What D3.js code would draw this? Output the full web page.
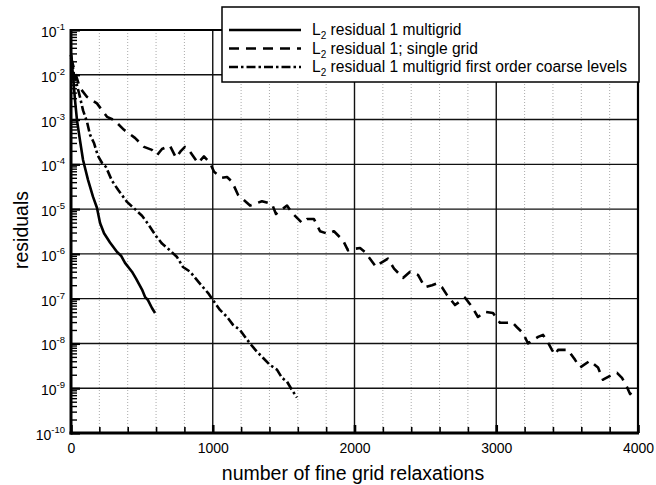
<!DOCTYPE html>
<html>
<head>
<meta charset="utf-8">
<script src="https://cdn.jsdelivr.net/npm/d3@7/dist/d3.min.js"></script>
<style>
  body { margin: 0; background: #fff; }
  svg { display: block; font-family: "Liberation Sans", Arial, Helvetica, sans-serif; }
</style>
</head>
<body>
<svg id="chart" width="656" height="485"></svg>
<script>
// [relaxations, residual]
const multigrid = [
  [0, 2.8e-2], [14, 1.0e-2], [28, 2.8e-3], [42, 9.8e-4], [63, 3.5e-4], [85, 1.25e-4],
  [120, 4.5e-5], [155, 1.9e-5], [183, 1.07e-5], [205, 4.9e-6], [233, 2.9e-6], [275, 1.8e-6],
  [325, 1.1e-6], [353, 9.1e-7], [381, 6.3e-7], [430, 4.0e-7], [459, 2.8e-7], [501, 1.6e-7],
  [522, 1.1e-7], [543, 9.3e-8], [571, 6.2e-8], [593, 4.8e-8]
];

const singleGrid = [
  [0, 2.4e-2], [28, 1.15e-2], [63, 5.1e-3], [113, 3.2e-3], [183, 2.3e-3], [254, 1.15e-3],
  [303, 9.8e-4], [374, 5.9e-4], [451, 3.9e-4], [515, 2.45e-4], [571, 2.1e-4], [607, 1.6e-4],
  [642, 2.2e-4], [698, 2.6e-4], [741, 1.4e-4], [776, 2.0e-4], [804, 2.45e-4], [840, 1.9e-4],
  [896, 1.07e-4], [938, 1.5e-4], [981, 1.07e-4], [1009, 6.8e-5], [1065, 5.0e-5], [1101, 5.2e-5],
  [1136, 4.1e-5], [1178, 2.1e-5], [1263, 1.2e-5], [1347, 1.5e-5], [1418, 1.3e-5], [1446, 7.8e-6],
  [1524, 1.2e-5], [1559, 8.3e-6], [1630, 4.9e-6], [1665, 6.0e-6], [1714, 6.0e-6], [1757, 3.2e-6],
  [1813, 2.8e-6], [1855, 3.2e-6], [1919, 2.0e-6], [1954, 1.2e-6], [2004, 1.3e-6], [2039, 1.35e-6],
  [2074, 1.1e-6], [2152, 5.1e-7], [2187, 6.3e-7], [2236, 7.8e-7], [2279, 4.7e-7], [2342, 2.9e-7],
  [2392, 4.0e-7], [2448, 3.4e-7], [2497, 1.8e-7], [2547, 2.0e-7], [2582, 2.2e-7], [2617, 1.8e-7],
  [2653, 1.2e-7], [2709, 7.2e-8], [2780, 1.05e-7], [2829, 6.6e-8], [2871, 3.9e-8], [2921, 5.1e-8],
  [2977, 4.8e-8], [3026, 2.9e-8], [3076, 2.9e-8], [3111, 3.0e-8], [3146, 2.3e-8], [3189, 1.7e-8],
  [3224, 1.0e-8], [3295, 1.4e-8], [3330, 1.55e-8], [3358, 1.15e-8], [3393, 7.2e-9], [3414, 5.6e-9],
  [3436, 7.2e-9], [3506, 7.2e-9], [3556, 4.3e-9], [3591, 2.9e-9], [3661, 4.1e-9], [3718, 2.9e-9],
  [3753, 1.55e-9], [3817, 2.0e-9], [3852, 2.2e-9], [3887, 1.7e-9], [3922, 1.07e-9], [3944, 7.4e-10],
  [3979, 9.8e-10]
];

const firstOrder = [
  [0, 2.8e-2], [21, 1.0e-2], [42, 5.9e-3], [63, 3.2e-3], [85, 1.6e-3], [113, 8.9e-4],
  [134, 4.6e-4], [162, 3.0e-4], [190, 1.55e-4], [219, 1.07e-4], [247, 8.7e-5], [289, 4.3e-5],
  [332, 2.7e-5], [395, 1.45e-5], [451, 1.0e-5], [501, 7.1e-6], [543, 4.7e-6], [600, 2.5e-6],
  [642, 1.7e-6], [698, 1.2e-6], [748, 8.5e-7], [790, 5.1e-7], [840, 4.0e-7], [889, 2.6e-7],
  [931, 1.8e-7], [966, 1.35e-7], [1002, 9.3e-8], [1051, 5.6e-8], [1101, 3.9e-8], [1143, 2.6e-8],
  [1192, 2.0e-8], [1228, 1.4e-8], [1263, 1.0e-8], [1312, 6.5e-9], [1354, 4.8e-9], [1404, 3.3e-9],
  [1453, 2.6e-9], [1489, 1.7e-9], [1524, 1.4e-9], [1559, 9.1e-10], [1594, 6.2e-10]
];

const xTickLabels = [0, 1000, 2000, 3000, 4000];
const yExponents = [-1, -2, -3, -4, -5, -6, -7, -8, -9, -10];
const legendLabels = [
  ["residual 1 multigrid", ""],
  ["residual 1", "; single grid"],
  ["residual 1 multigrid first order coarse levels", ""]
];

const svg = d3.select("#chart");
const plotLeft = 71, plotRight = 638, plotTop = 30, plotBottom = 433;

const x = d3.scaleLinear().domain([0, 4000]).range([plotLeft, plotRight]);
const y = d3.scaleLog().domain([1e-10, 1e-1]).range([plotBottom, plotTop]);

const minorX = d3.range(200, 4000, 200).filter(v => v % 1000 !== 0);
const minorY = [];
yExponents.slice(1).forEach(e => {
  for (let k = 2; k <= 9; k++) minorY.push(k * Math.pow(10, e));
});

// grid
const grid = svg.append("g");
grid.selectAll(".vminor")
  .data(minorX)
  .enter()
  .append("line")
  .attr("x1", d => x(d)).attr("x2", d => x(d))
  .attr("y1", plotTop).attr("y2", plotBottom)
  .attr("stroke", "#aaa")
  .attr("stroke-width", 1)
  .attr("stroke-dasharray", "1,2");

grid.selectAll(".vmajor")
  .data(xTickLabels.slice(1, -1))
  .enter()
  .append("line")
  .attr("x1", d => x(d)).attr("x2", d => x(d))
  .attr("y1", plotTop).attr("y2", plotBottom)
  .attr("stroke", "#111")
  .attr("stroke-width", 1.4);

grid.selectAll(".hmajor")
  .data(yExponents.slice(1, -1))
  .enter()
  .append("line")
  .attr("x1", plotLeft).attr("x2", plotRight)
  .attr("y1", d => y(Math.pow(10, d))).attr("y2", d => y(Math.pow(10, d)))
  .attr("stroke", "#111")
  .attr("stroke-width", 1.4);

// curves
const line = d3.line().x(d => x(d[0])).y(d => y(d[1]));
const series = [
  { data: multigrid, dash: null },
  { data: singleGrid, dash: "10,7" },
  { data: firstOrder, dash: "9,3,2.5,3" }
];

svg.append("g")
  .selectAll("path")
  .data(series)
  .enter()
  .append("path")
  .attr("d", s => line(s.data))
  .attr("fill", "none")
  .attr("stroke", "#000")
  .attr("stroke-width", 2.6)
  .attr("stroke-linejoin", "round")
  .attr("stroke-dasharray", s => s.dash);

// axes
svg.append("g")
  .attr("transform", `translate(0, ${plotBottom})`)
  .call(d3.axisBottom(x).tickValues(minorX).tickSize(-6).tickFormat(""))
  .call(g => g.select(".domain").remove())
  .call(g => g.selectAll("line").attr("stroke", "#000").attr("stroke-width", 1.6));

svg.append("g")
  .attr("transform", `translate(0, ${plotBottom})`)
  .call(d3.axisBottom(x).tickValues(xTickLabels).tickSize(-8).tickPadding(10).tickFormat(d3.format("d")))
  .call(g => g.select(".domain").remove())
  .call(g => g.selectAll("line").attr("stroke", "#000").attr("stroke-width", 2.6))
  .call(g => g.selectAll("text").attr("font-size", 14).attr("fill", "#000"))
  .attr("font-family", null);

svg.append("g")
  .attr("transform", `translate(${plotLeft}, 0)`)
  .call(d3.axisLeft(y).tickValues(minorY).tickSize(-6).tickFormat(""))
  .call(g => g.select(".domain").remove())
  .call(g => g.selectAll("line").attr("stroke", "#000").attr("stroke-width", 1.4));

svg.append("g")
  .attr("transform", `translate(${plotLeft}, 0)`)
  .call(d3.axisLeft(y).tickValues(yExponents.map(e => Math.pow(10, e))).tickSize(-9).tickFormat(""))
  .call(g => g.select(".domain").remove())
  .call(g => g.selectAll("line").attr("stroke", "#000").attr("stroke-width", 2.2));

const ylab = svg.append("g")
  .selectAll("text")
  .data(yExponents)
  .enter()
  .append("text")
  .attr("x", 65)
  .attr("y", d => y(Math.pow(10, d)) + 7)
  .attr("text-anchor", "end")
  .attr("font-size", 14)
  .attr("fill", "#000");
ylab.append("tspan").text("10");
ylab.append("tspan").attr("dy", -7).attr("font-size", 9.5).text(d => d);

// frame
svg.append("line").attr("x1", plotLeft).attr("x2", plotRight).attr("y1", plotTop).attr("y2", plotTop)
  .attr("stroke", "#000").attr("stroke-width", 2.2);
svg.append("line").attr("x1", plotRight).attr("x2", plotRight).attr("y1", plotTop).attr("y2", plotBottom)
  .attr("stroke", "#000").attr("stroke-width", 2.2);
svg.append("line").attr("x1", plotLeft).attr("x2", plotLeft).attr("y1", plotTop - 1).attr("y2", plotBottom + 1.5)
  .attr("stroke", "#000").attr("stroke-width", 3);
svg.append("line").attr("x1", plotLeft - 1.5).attr("x2", plotRight + 1).attr("y1", plotBottom).attr("y2", plotBottom)
  .attr("stroke", "#000").attr("stroke-width", 3);

// legend
const legend = svg.append("g");
legend.append("rect")
  .attr("x", 222).attr("y", 7)
  .attr("width", 417).attr("height", 75)
  .attr("fill", "#fff")
  .attr("stroke", "#000")
  .attr("stroke-width", 1.5);

const rows = legend.selectAll(".row")
  .data(series)
  .enter()
  .append("g")
  .attr("transform", (d, i) => `translate(0, ${[30, 48.5, 67][i]})`);

rows.append("line")
  .attr("x1", 229).attr("x2", 301)
  .attr("stroke", "#000")
  .attr("stroke-width", 2.6)
  .attr("stroke-dasharray", s => s.dash);

const ltext = rows.append("text")
  .attr("x", 312)
  .attr("y", 5)
  .attr("font-size", 15.6)
  .attr("fill", "#000");
ltext.append("tspan").text("L");
ltext.append("tspan").attr("dy", 4).attr("font-size", 10).text("2");
ltext.append("tspan").attr("dy", -4).text((d, i) => " " + legendLabels[i][0]);
ltext.append("tspan").text((d, i) => legendLabels[i][1]);

// axis titles
svg.append("text")
  .attr("x", 353)
  .attr("y", 480)
  .attr("text-anchor", "middle")
  .attr("font-size", 19.5)
  .attr("fill", "#000")
  .text("number of fine grid relaxations");

svg.append("text")
  .attr("transform", "translate(28, 230) rotate(-90)")
  .attr("text-anchor", "middle")
  .attr("font-size", 19.5)
  .attr("fill", "#000")
  .text("residuals");
</script>
</body>
</html>
